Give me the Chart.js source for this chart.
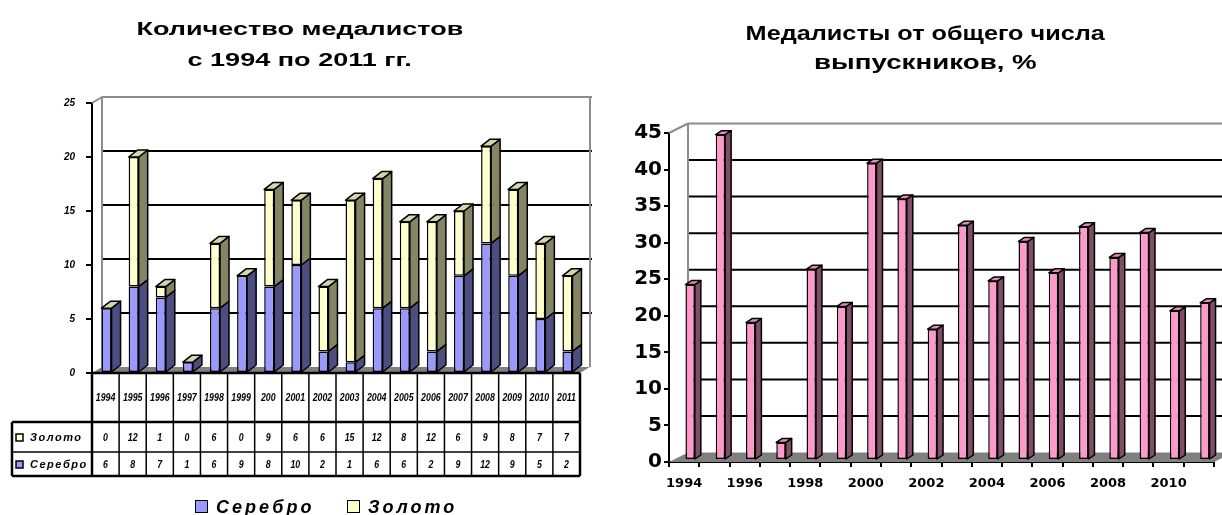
<!DOCTYPE html>
<html lang="ru">
<head>
<meta charset="utf-8">
<script src="https://cdn.jsdelivr.net/npm/chart.js@4.4.1/dist/chart.umd.min.js"></script>
<style>
  html, body { margin: 0; padding: 0; background: #fff; overflow: hidden; }
  body { width: 1222px; height: 515px; position: relative; font-family: Arial, "Liberation Sans", sans-serif; color: #000; }
  .box { position: absolute; top: 0; height: 515px; }
  #leftBox { left: 0; width: 600px; }
  #rightBox { left: 600px; width: 650px; }
  .line { position: absolute; left: 0; right: 0; text-align: center; white-space: nowrap; font-weight: bold; line-height: 1; }
  .line span { display: inline-block; transform-origin: 50% 50%; }
  .key { position: absolute; width: 11px; height: 11px; border: 1px solid #000; }
  .lab { position: absolute; font-weight: bold; font-style: italic; font-size: 18px; line-height: 1; letter-spacing: 3px; }
</style>
</head>
<body>
<div class="box" id="leftBox">
  <canvas id="countChart" width="600" height="515"></canvas>
  <div class="line" style="top:20px;font-size:18px"><span id="t1a">Количество медалистов</span></div>
  <div class="line" style="top:51px;font-size:18px"><span id="t1b">с 1994 по 2011 гг.</span></div>
  <div class="key" style="left:195px;top:500px;background:#9999FF"></div>
  <div class="lab" style="left:216px;top:498px">Серебро</div>
  <div class="key" style="left:347px;top:500px;background:#FFFFCC"></div>
  <div class="lab" style="left:368px;top:498px">Золото</div>
</div>
<div class="box" id="rightBox">
  <canvas id="pctChart" width="650" height="515"></canvas>
  <div class="line" style="top:23px;font-size:20px"><span id="t2a">Медалисты от общего числа</span></div>
  <div class="line" style="top:52px;font-size:20px"><span id="t2b">выпускников, %</span></div>
</div>
<script>
// left chart: medal counts
const years = ["1994", "1995", "1996", "1997", "1998", "1999", "200", "2001", "2002",
  "2003", "2004", "2005", "2006", "2007", "2008", "2009", "2010", "2011"];
const silver = [6, 8, 7, 1, 6, 9, 8, 10, 2, 1, 6, 6, 2, 9, 12, 9, 5, 2];
const gold = [0, 12, 1, 0, 6, 0, 9, 6, 6, 15, 12, 8, 12, 6, 9, 8, 7, 7];
const countTicks = [0, 5, 10, 15, 20, 25];

// right chart: share of graduates, %
const pctYears = ["1994", "1995", "1996", "1997", "1998", "1999", "2000", "2001", "2002",
  "2003", "2004", "2005", "2006", "2007", "2008", "2009", "2010", "2011"];
const pctValues = [24, 44.5, 18.8, 2.4, 26.1, 21, 40.6, 35.7, 17.9,
  32.1, 24.5, 29.9, 25.6, 31.9, 27.7, 31.1, 20.4, 21.5];
const pctTicks = [0, 5, 10, 15, 20, 25, 30, 35, 40, 45];

function stretch(id, width) {
  const el = document.getElementById(id);
  el.style.transform = "scaleX(" + (width / el.offsetWidth).toFixed(3) + ")";
}

function poly(ctx, pts, fill) {
  ctx.beginPath();
  ctx.moveTo(pts[0][0], pts[0][1]);
  for (let i = 1; i < pts.length; i++) ctx.lineTo(pts[i][0], pts[i][1]);
  ctx.closePath();
  if (fill) { ctx.fillStyle = fill; ctx.fill(); }
  ctx.stroke();
}

function seg(ctx, x1, y1, x2, y2) {
  ctx.beginPath();
  ctx.moveTo(x1, y1);
  ctx.lineTo(x2, y2);
  ctx.stroke();
}

// back wall, floor and the 3D sides of the bars
const depthPlugin = {
  id: "depth",
  beforeDatasetsDraw(chart, args, opts) {
    const { ctx, chartArea: a, scales: { y } } = chart;
    const wx = opts.wallX, wy = opts.wallY;
    ctx.save();
    ctx.fillStyle = "#808080";
    ctx.beginPath();
    ctx.moveTo(a.left, a.bottom);
    ctx.lineTo(a.left + wx, a.bottom + wy);
    ctx.lineTo(a.right + wx, a.bottom + wy);
    ctx.lineTo(a.right, a.bottom);
    ctx.closePath();
    ctx.fill();
    ctx.lineWidth = 2;
    y.ticks.forEach(t => {
      if (t.value === y.min) return;
      const py = y.getPixelForValue(t.value) + wy;
      ctx.strokeStyle = t.value === y.max ? "#8c8c8c" : "#000";
      seg(ctx, a.left + wx, py, a.right + wx + 2, py);
    });
    ctx.strokeStyle = "#8c8c8c";
    seg(ctx, a.left, a.top, a.left + wx, a.top + wy);
    seg(ctx, a.left + wx, a.top + wy, a.left + wx, a.bottom + wy);
    seg(ctx, a.right + wx, a.top + wy, a.right + wx, a.bottom + wy);
    ctx.restore();
    ctx.save();
    ctx.translate(opts.shiftX, opts.shiftY);
  },
  afterDatasetsDraw(chart, args, opts) {
    const ctx = chart.ctx;
    const last = chart.data.datasets.length - 1;
    const dx = opts.barX, dy = opts.barY;
    ctx.strokeStyle = "#000";
    ctx.lineWidth = 1.5;
    ctx.lineJoin = "round";
    chart.data.datasets.forEach((ds, di) => {
      chart.getDatasetMeta(di).data.forEach(bar => {
        const l = bar.x - bar.width / 2, r = bar.x + bar.width / 2;
        const top = Math.min(bar.y, bar.base), bot = Math.max(bar.y, bar.base);
        if (bot - top > 0.5) {
          poly(ctx, [[r, top], [r + dx, top + dy], [r + dx, bot + dy], [r, bot]], ds.sideColor);
        }
        if (di === last) {
          poly(ctx, [[l, top], [l + dx, top + dy], [r + dx, top + dy], [r, top]], ds.topColor);
        }
      });
    });
    ctx.restore();
  }
};

// data table under the left chart
function condensed(ctx, text, x, y, size) {
  ctx.save();
  ctx.translate(x, y);
  ctx.scale(0.8, 1);
  ctx.font = "italic bold " + size + "px Arial";
  ctx.textAlign = "center";
  ctx.textBaseline = "middle";
  ctx.fillText(text, 0, 0);
  ctx.restore();
}

const tablePlugin = {
  id: "dataTable",
  afterDraw(chart, args, opts) {
    const { ctx, chartArea: a, scales: { x } } = chart;
    const n = chart.data.labels.length;
    const w = x.width / n;
    const r0 = a.bottom, r1 = opts.yearBottom, r2 = opts.goldBottom, r3 = opts.silverBottom;
    const head = opts.headLeft;
    const rows = [
      { ds: chart.data.datasets[1], y0: r1, y1: r2 },
      { ds: chart.data.datasets[0], y0: r2, y1: r3 }
    ];
    ctx.save();
    ctx.fillStyle = "#000";
    chart.data.labels.forEach((lab, i) => {
      const cx = x.getPixelForValue(i);
      condensed(ctx, lab, cx, (r0 + r1) / 2, 11);
      rows.forEach(row => condensed(ctx, String(row.ds.data[i]), cx, (row.y0 + row.y1) / 2 + 1, 11));
    });
    rows.forEach(row => {
      const cy = (row.y0 + row.y1) / 2;
      ctx.fillStyle = row.ds.backgroundColor;
      ctx.fillRect(head + 4, cy - 3, 7, 7);
      ctx.strokeStyle = "#000";
      ctx.lineWidth = 1.5;
      ctx.strokeRect(head + 4, cy - 3, 7, 7);
      ctx.fillStyle = "#000";
      ctx.font = "italic bold 11px Arial";
      ctx.textAlign = "left";
      ctx.textBaseline = "middle";
      ctx.letterSpacing = "1.5px";
      ctx.fillText(row.ds.label, head + 18, cy + 1);
      ctx.letterSpacing = "0px";
    });
    ctx.strokeStyle = "#000";
    ctx.lineWidth = 1.5;
    for (let i = 1; i < n; i++) {
      const bx = a.left + i * w;
      seg(ctx, bx, r0, bx, r3);
    }
    seg(ctx, head, r2, a.right, r2);
    ctx.lineWidth = 2.5;
    seg(ctx, a.left, r0, a.right, r0);
    seg(ctx, a.left, r0, a.left, r3);
    seg(ctx, a.right, r0, a.right, r3);
    seg(ctx, head, r1, a.right, r1);
    seg(ctx, head, r3, a.right, r3);
    seg(ctx, head, r1, head, r3);
    ctx.restore();
  }
};

new Chart(document.getElementById("countChart"), {
  type: "bar",
  data: {
    labels: years,
    datasets: [
      { label: "Серебро", data: silver, backgroundColor: "#9999FF", sideColor: "#4D4D80", topColor: "#B3B3E6" },
      { label: "Золото", data: gold, backgroundColor: "#FFFFCC", sideColor: "#858566", topColor: "#D6D6AD" }
    ]
  },
  options: {
    responsive: false,
    animation: false,
    events: [],
    layout: { padding: { left: 0, right: 20, top: 103, bottom: 0 } },
    datasets: {
      bar: { barPercentage: 0.37, categoryPercentage: 1, borderColor: "#000", borderWidth: 1.5, borderSkipped: false }
    },
    plugins: {
      legend: { display: false },
      tooltip: { enabled: false },
      depth: { wallX: 10, wallY: -6, barX: 9, barY: -7, shiftX: 1, shiftY: 0 },
      dataTable: { yearBottom: 422, goldBottom: 452, silverBottom: 476, headLeft: 12 }
    },
    scales: {
      x: {
        stacked: true,
        grid: { display: false },
        border: { display: false },
        ticks: { display: false },
        afterFit: s => { s.height = 142; }
      },
      y: {
        stacked: true,
        min: 0,
        max: 25,
        afterBuildTicks: s => { s.ticks = countTicks.map(v => ({ value: v })); },
        afterFit: s => { s.width = 92; },
        grid: { drawOnChartArea: false, tickLength: 6, tickColor: "#000", lineWidth: 2 },
        border: { color: "#000", width: 2 },
        ticks: { color: "#000", padding: 11, font: { family: "Arial", size: 10, weight: "bold", style: "italic" } }
      }
    }
  },
  plugins: [depthPlugin, tablePlugin]
});

new Chart(document.getElementById("pctChart"), {
  type: "bar",
  data: {
    labels: pctYears,
    datasets: [
      { label: "%", data: pctValues, backgroundColor: "#FF99CC", sideColor: "#804D66", topColor: "#E68AB8" }
    ]
  },
  options: {
    responsive: false,
    animation: false,
    events: [],
    layout: { padding: { left: 0, right: 36, top: 133, bottom: 0 } },
    datasets: {
      bar: { barPercentage: 0.31, categoryPercentage: 1, borderColor: "#000", borderWidth: 1.5, borderSkipped: false }
    },
    plugins: {
      legend: { display: false },
      tooltip: { enabled: false },
      depth: { wallX: 19, wallY: -9.5, barX: 6, barY: -4, shiftX: 6, shiftY: -2 }
    },
    scales: {
      x: {
        grid: { drawOnChartArea: false, offset: true, tickLength: 5, tickColor: "#000", lineWidth: 2 },
        border: { color: "#000", width: 2 },
        ticks: {
          color: "#000",
          autoSkip: false,
          maxRotation: 0,
          padding: 9,
          font: { family: "DejaVu Sans", size: 13, weight: "bold" },
          callback: (v, i) => (i % 2 === 0 ? pctYears[i] : "")
        },
        afterFit: s => { s.height = 53; }
      },
      y: {
        min: 0,
        max: 45,
        afterBuildTicks: s => { s.ticks = pctTicks.map(v => ({ value: v })); },
        afterFit: s => { s.width = 69; },
        grid: { drawOnChartArea: false, tickLength: 5, tickColor: "#000", lineWidth: 2 },
        border: { color: "#000", width: 2 },
        ticks: { color: "#000", padding: 2, font: { family: "DejaVu Sans", size: 20, weight: "bold" } }
      }
    }
  },
  plugins: [depthPlugin]
});

stretch("t1a", 327);
stretch("t1b", 224);
stretch("t2a", 360);
stretch("t2b", 223);
</script>
</body>
</html>
